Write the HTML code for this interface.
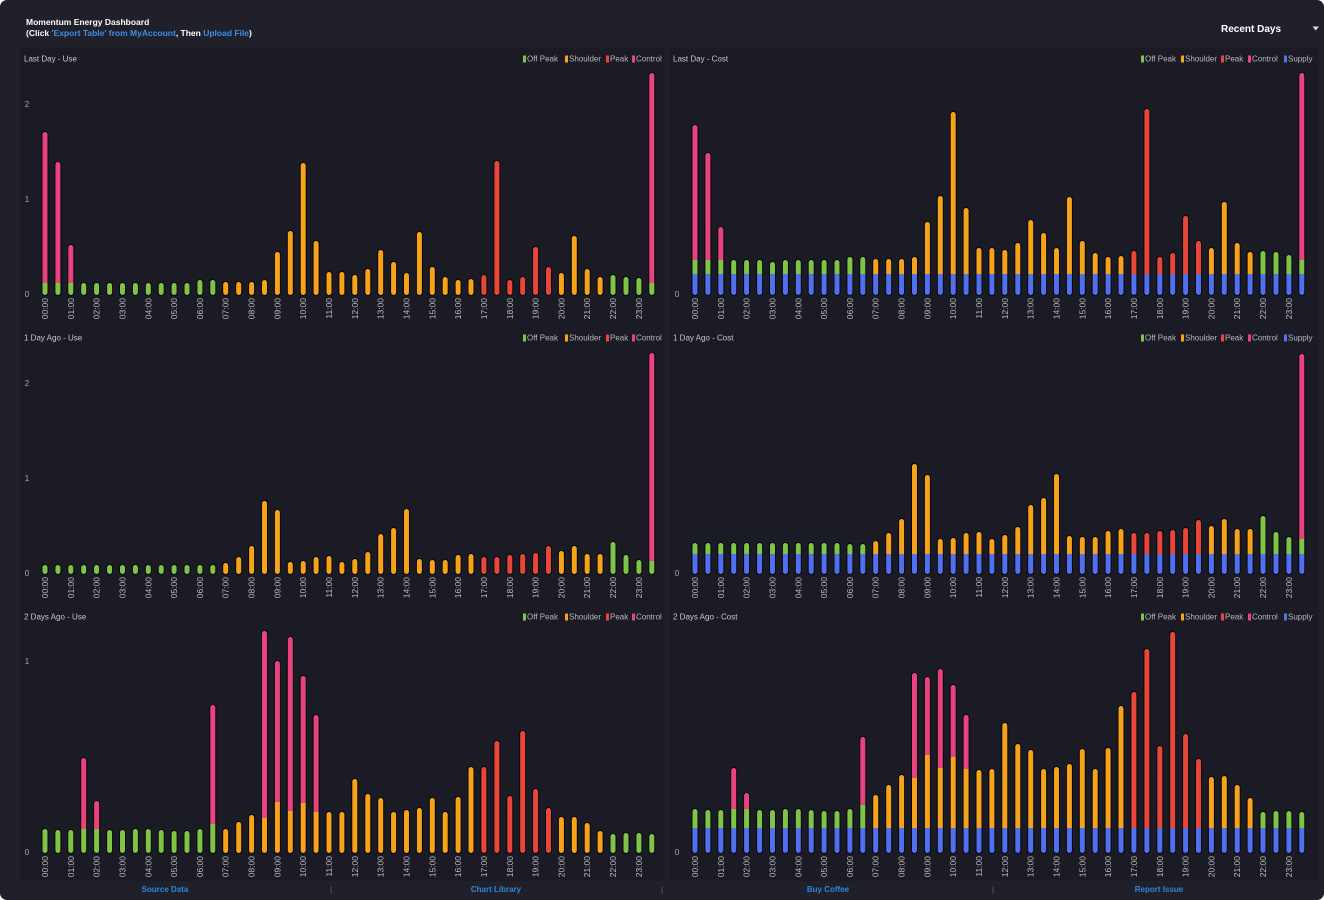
<!DOCTYPE html>
<html><head><meta charset="utf-8">
<style>
html,body{margin:0;padding:0;background:#fff;width:1324px;height:900px;overflow:hidden}
svg{display:block}
.g{fill:#80c447}.o{fill:#f7a21b}.r{fill:#e9463a}.p{fill:#e8437e}.b{fill:#5070f0}
.mk{fill:none;stroke:#fff;stroke-width:5;stroke-linecap:round}
.ol{fill:none;stroke:#08080c;stroke-width:7;stroke-linecap:round}
</style></head><body>
<svg xmlns="http://www.w3.org/2000/svg" width="1324" height="900" viewBox="0 0 1324 900" font-family="'Liberation Sans', sans-serif">
<defs>
<path id="s1" d="M45-2.5V-160.5M57.9-2.5V-130.5M70.8-2.5V-47.5M83.7-2.5V-9.5M96.6-2.5V-9.5M109.6-2.5V-9.5M122.5-2.5V-9.5M135.4-2.5V-9.5M148.3-2.5V-9.5M161.2-2.5V-9.5M174.1-2.5V-9.5M187-2.5V-9.5M199.9-2.5V-12.5M212.8-2.5V-12.5M225.7-2.5V-10.5M238.7-2.5V-10.5M251.6-2.5V-10.5M264.5-2.5V-12.5M277.4-2.5V-40.5M290.3-2.5V-61.5M303.2-2.5V-129.5M316.1-2.5V-51.5M329-2.5V-20.5M341.9-2.5V-20.5M354.8-2.5V-17.5M367.8-2.5V-23.5M380.7-2.5V-42.5M393.6-2.5V-30.5M406.5-2.5V-19.5M419.4-2.5V-60.5M432.3-2.5V-25.5M445.2-2.5V-15.5M458.1-2.5V-12.5M471-2.5V-13.5M483.9-2.5V-17.5M496.9-2.5V-131.5M509.8-2.5V-12.5M522.7-2.5V-15.5M535.6-2.5V-45.5M548.5-2.5V-25.5M561.4-2.5V-19.5M574.3-2.5V-56.5M587.2-2.5V-23.5M600.1-2.5V-15.5M613-2.5V-17.5M626-2.5V-15.5M638.9-2.5V-14.5M651.8-2.5V-219.5"/>
<path id="s2" d="M45-2.5V-167.5M57.9-2.5V-139.5M70.8-2.5V-65.5M83.7-2.5V-32.5M96.6-2.5V-32.5M109.6-2.5V-32.5M122.5-2.5V-30.5M135.4-2.5V-32.5M148.3-2.5V-32.5M161.2-2.5V-32.5M174.1-2.5V-32.5M187-2.5V-32.5M199.9-2.5V-35.5M212.8-2.5V-35.5M225.7-2.5V-33.5M238.7-2.5V-33.5M251.6-2.5V-33.5M264.5-2.5V-35.5M277.4-2.5V-70.5M290.3-2.5V-96.5M303.2-2.5V-180.5M316.1-2.5V-84.5M329-2.5V-44.5M341.9-2.5V-44.5M354.8-2.5V-42.5M367.8-2.5V-49.5M380.7-2.5V-72.5M393.6-2.5V-59.5M406.5-2.5V-44.5M419.4-2.5V-95.5M432.3-2.5V-51.5M445.2-2.5V-39.5M458.1-2.5V-35.5M471-2.5V-36.5M483.9-2.5V-41.5M496.9-2.5V-183.5M509.8-2.5V-35.5M522.7-2.5V-39.5M535.6-2.5V-76.5M548.5-2.5V-51.5M561.4-2.5V-44.5M574.3-2.5V-90.5M587.2-2.5V-49.5M600.1-2.5V-40.5M613-2.5V-41.5M626-2.5V-40.5M638.9-2.5V-37.5M651.8-2.5V-219.5"/>
<path id="s3" d="M45-2.5V-6.5M57.9-2.5V-6.5M70.8-2.5V-6.5M83.7-2.5V-6.5M96.6-2.5V-6.5M109.6-2.5V-6.5M122.5-2.5V-6.5M135.4-2.5V-6.5M148.3-2.5V-6.5M161.2-2.5V-6.5M174.1-2.5V-6.5M187-2.5V-6.5M199.9-2.5V-6.5M212.8-2.5V-6.5M225.7-2.5V-8.5M238.7-2.5V-14.5M251.6-2.5V-25.5M264.5-2.5V-70.5M277.4-2.5V-61.5M290.3-2.5V-9.5M303.2-2.5V-10.5M316.1-2.5V-14.5M329-2.5V-15.5M341.9-2.5V-9.5M354.8-2.5V-12.5M367.8-2.5V-19.5M380.7-2.5V-37.5M393.6-2.5V-43.5M406.5-2.5V-62.5M419.4-2.5V-12.5M432.3-2.5V-11.5M445.2-2.5V-11.5M458.1-2.5V-16.5M471-2.5V-17.5M483.9-2.5V-14.5M496.9-2.5V-14.5M509.8-2.5V-16.5M522.7-2.5V-17.5M535.6-2.5V-18.5M548.5-2.5V-25.5M561.4-2.5V-20.5M574.3-2.5V-25.5M587.2-2.5V-17.5M600.1-2.5V-17.5M613-2.5V-29.5M626-2.5V-16.5M638.9-2.5V-11.5M651.8-2.5V-218.5"/>
<path id="s4" d="M45-2.5V-28.5M57.9-2.5V-28.5M70.8-2.5V-28.5M83.7-2.5V-28.5M96.6-2.5V-28.5M109.6-2.5V-28.5M122.5-2.5V-28.5M135.4-2.5V-28.5M148.3-2.5V-28.5M161.2-2.5V-28.5M174.1-2.5V-28.5M187-2.5V-28.5M199.9-2.5V-27.5M212.8-2.5V-27.5M225.7-2.5V-30.5M238.7-2.5V-38.5M251.6-2.5V-52.5M264.5-2.5V-107.5M277.4-2.5V-96.5M290.3-2.5V-32.5M303.2-2.5V-33.5M316.1-2.5V-38.5M329-2.5V-39.5M341.9-2.5V-32.5M354.8-2.5V-36.5M367.8-2.5V-44.5M380.7-2.5V-66.5M393.6-2.5V-73.5M406.5-2.5V-97.5M419.4-2.5V-35.5M432.3-2.5V-34.5M445.2-2.5V-34.5M458.1-2.5V-40.5M471-2.5V-42.5M483.9-2.5V-38.5M496.9-2.5V-38.5M509.8-2.5V-40.5M522.7-2.5V-41.5M535.6-2.5V-43.5M548.5-2.5V-51.5M561.4-2.5V-45.5M574.3-2.5V-52.5M587.2-2.5V-42.5M600.1-2.5V-42.5M613-2.5V-55.5M626-2.5V-39.5M638.9-2.5V-34.5M651.8-2.5V-217.5"/>
<path id="s5" d="M45-2.5V-21.5M57.9-2.5V-20.5M70.8-2.5V-20.5M83.7-2.5V-92.5M96.6-2.5V-49.5M109.6-2.5V-20.5M122.5-2.5V-20.5M135.4-2.5V-21.5M148.3-2.5V-21.5M161.2-2.5V-20.5M174.1-2.5V-19.5M187-2.5V-19.5M199.9-2.5V-21.5M212.8-2.5V-145.5M225.7-2.5V-21.5M238.7-2.5V-28.5M251.6-2.5V-35.5M264.5-2.5V-219.5M277.4-2.5V-189.5M290.3-2.5V-213.5M303.2-2.5V-174.5M316.1-2.5V-135.5M329-2.5V-38.5M341.9-2.5V-38.5M354.8-2.5V-71.5M367.8-2.5V-56.5M380.7-2.5V-52.5M393.6-2.5V-38.5M406.5-2.5V-40.5M419.4-2.5V-42.5M432.3-2.5V-52.5M445.2-2.5V-38.5M458.1-2.5V-53.5M471-2.5V-83.5M483.9-2.5V-83.5M496.9-2.5V-109.5M509.8-2.5V-54.5M522.7-2.5V-119.5M535.6-2.5V-61.5M548.5-2.5V-42.5M561.4-2.5V-33.5M574.3-2.5V-33.5M587.2-2.5V-27.5M600.1-2.5V-19.5M613-2.5V-16.5M626-2.5V-17.5M638.9-2.5V-17.5M651.8-2.5V-16.5"/>
<path id="s6" d="M45-2.5V-41.5M57.9-2.5V-40.5M70.8-2.5V-40.5M83.7-2.5V-82.5M96.6-2.5V-57.5M109.6-2.5V-40.5M122.5-2.5V-40.5M135.4-2.5V-41.5M148.3-2.5V-41.5M161.2-2.5V-40.5M174.1-2.5V-39.5M187-2.5V-39.5M199.9-2.5V-41.5M212.8-2.5V-113.5M225.7-2.5V-55.5M238.7-2.5V-65.5M251.6-2.5V-75.5M264.5-2.5V-177.5M277.4-2.5V-173.5M290.3-2.5V-181.5M303.2-2.5V-165.5M316.1-2.5V-135.5M329-2.5V-80.5M341.9-2.5V-81.5M354.8-2.5V-127.5M367.8-2.5V-106.5M380.7-2.5V-100.5M393.6-2.5V-81.5M406.5-2.5V-83.5M419.4-2.5V-86.5M432.3-2.5V-101.5M445.2-2.5V-81.5M458.1-2.5V-102.5M471-2.5V-144.5M483.9-2.5V-158.5M496.9-2.5V-201.5M509.8-2.5V-104.5M522.7-2.5V-218.5M535.6-2.5V-116.5M548.5-2.5V-91.5M561.4-2.5V-73.5M574.3-2.5V-74.5M587.2-2.5V-65.5M600.1-2.5V-52.5M613-2.5V-38.5M626-2.5V-39.5M638.9-2.5V-39.5M651.8-2.5V-38.5"/>
<mask id="m1" maskUnits="userSpaceOnUse" x="0" y="-300" width="700" height="320"><use href="#s1" class="mk"/></mask>
<mask id="m2" maskUnits="userSpaceOnUse" x="0" y="-300" width="700" height="320"><use href="#s2" class="mk"/></mask>
<mask id="m3" maskUnits="userSpaceOnUse" x="0" y="-300" width="700" height="320"><use href="#s3" class="mk"/></mask>
<mask id="m4" maskUnits="userSpaceOnUse" x="0" y="-300" width="700" height="320"><use href="#s4" class="mk"/></mask>
<mask id="m5" maskUnits="userSpaceOnUse" x="0" y="-300" width="700" height="320"><use href="#s5" class="mk"/></mask>
<mask id="m6" maskUnits="userSpaceOnUse" x="0" y="-300" width="700" height="320"><use href="#s6" class="mk"/></mask>
</defs>

<rect width="1324" height="900" rx="7" fill="#1f2029"/>
<rect x="20" y="47" width="644" height="834" fill="#1a1b24"/>
<rect x="669" y="47" width="650" height="834" fill="#1a1b24"/>

<!-- header -->
<text x="26" y="25" font-size="8.5" font-weight="bold" fill="#ffffff">Momentum Energy Dashboard</text>
<text x="26" y="36" font-size="8.5" font-weight="bold" fill="#ffffff">(Click <tspan fill="#3d8fe8">'Export Table' from MyAccount</tspan>, Then <tspan fill="#3d8fe8">Upload File</tspan>)</text>
<text x="1221" y="32" font-size="10" font-weight="bold" fill="#ffffff">Recent Days</text>
<polygon points="1312.5,26.5 1319,26.5 1315.75,30.5" fill="#dddddd"/>

<!-- panel titles -->
<g font-size="8" fill="#c9c9c9">
<text x="24" y="61.5">Last Day - Use</text>
<text x="673" y="61.5">Last Day - Cost</text>
<text x="24" y="340.5">1 Day Ago - Use</text>
<text x="673" y="340.5">1 Day Ago - Cost</text>
<text x="24" y="619.5">2 Days Ago - Use</text>
<text x="673" y="619.5">2 Days Ago - Cost</text>
</g>

<!-- legends -->
<g font-size="8" fill="#b8b8b8">
<g>
<rect x="523" y="55.5" width="3" height="7" class="g"/><text x="527" y="61.5">Off Peak</text>
<rect x="565" y="55.5" width="3" height="7" class="o"/><text x="569" y="61.5">Shoulder</text>
<rect x="606" y="55.5" width="3" height="7" class="r"/><text x="610" y="61.5">Peak</text>
<rect x="632" y="55.5" width="3" height="7" class="p"/><text x="636" y="61.5">Control</text>
<rect x="1141" y="55.5" width="3" height="7" class="g"/><text x="1145" y="61.5">Off Peak</text>
<rect x="1181" y="55.5" width="3" height="7" class="o"/><text x="1185" y="61.5">Shoulder</text>
<rect x="1221" y="55.5" width="3" height="7" class="r"/><text x="1225" y="61.5">Peak</text>
<rect x="1248" y="55.5" width="3" height="7" class="p"/><text x="1252" y="61.5">Control</text>
<rect x="1284" y="55.5" width="3" height="7" class="b"/><text x="1288" y="61.5">Supply</text>
</g>
<g transform="translate(0,279)">
<rect x="523" y="55.5" width="3" height="7" class="g"/><text x="527" y="61.5">Off Peak</text>
<rect x="565" y="55.5" width="3" height="7" class="o"/><text x="569" y="61.5">Shoulder</text>
<rect x="606" y="55.5" width="3" height="7" class="r"/><text x="610" y="61.5">Peak</text>
<rect x="632" y="55.5" width="3" height="7" class="p"/><text x="636" y="61.5">Control</text>
<rect x="1141" y="55.5" width="3" height="7" class="g"/><text x="1145" y="61.5">Off Peak</text>
<rect x="1181" y="55.5" width="3" height="7" class="o"/><text x="1185" y="61.5">Shoulder</text>
<rect x="1221" y="55.5" width="3" height="7" class="r"/><text x="1225" y="61.5">Peak</text>
<rect x="1248" y="55.5" width="3" height="7" class="p"/><text x="1252" y="61.5">Control</text>
<rect x="1284" y="55.5" width="3" height="7" class="b"/><text x="1288" y="61.5">Supply</text>
</g>
<g transform="translate(0,558)">
<rect x="523" y="55.5" width="3" height="7" class="g"/><text x="527" y="61.5">Off Peak</text>
<rect x="565" y="55.5" width="3" height="7" class="o"/><text x="569" y="61.5">Shoulder</text>
<rect x="606" y="55.5" width="3" height="7" class="r"/><text x="610" y="61.5">Peak</text>
<rect x="632" y="55.5" width="3" height="7" class="p"/><text x="636" y="61.5">Control</text>
<rect x="1141" y="55.5" width="3" height="7" class="g"/><text x="1145" y="61.5">Off Peak</text>
<rect x="1181" y="55.5" width="3" height="7" class="o"/><text x="1185" y="61.5">Shoulder</text>
<rect x="1221" y="55.5" width="3" height="7" class="r"/><text x="1225" y="61.5">Peak</text>
<rect x="1248" y="55.5" width="3" height="7" class="p"/><text x="1252" y="61.5">Control</text>
<rect x="1284" y="55.5" width="3" height="7" class="b"/><text x="1288" y="61.5">Supply</text>
</g>
</g>

<!-- y ticks -->
<g font-size="8" fill="#a8a8a8" text-anchor="middle">
<text x="27" y="107">2</text><text x="27" y="202">1</text><text x="27" y="297">0</text>
<text x="27" y="386">2</text><text x="27" y="481">1</text><text x="27" y="576">0</text>
<text x="27" y="664">1</text><text x="27" y="855">0</text>
<text x="677" y="297">0</text><text x="677" y="576">0</text><text x="677" y="855">0</text>
</g>

<!-- Panel 1: Last Day - Use -->
<g transform="translate(0,295)">
<use href="#s1" class="ol"/>
<g mask="url(#m1)">
<rect x="38" y="-300" width="39.25" height="300" class="p"/>
<rect x="77.25" y="-300" width="142" height="300" class="g"/>
<rect x="219.25" y="-300" width="258.2" height="300" class="o"/>
<rect x="477.45" y="-300" width="77.5" height="300" class="r"/>
<rect x="554.95" y="-300" width="51.6" height="300" class="o"/>
<rect x="606.55" y="-300" width="38.8" height="300" class="g"/>
<rect x="645.35" y="-300" width="15" height="300" class="p"/>
<rect x="38" y="-12" width="39.25" height="12" class="g"/>
<rect x="645.35" y="-12" width="15" height="12" class="g"/>
</g>
</g>

<!-- Panel 2: Last Day - Cost -->
<g transform="translate(650,295)">
<use href="#s2" class="ol"/>
<g mask="url(#m2)">
<rect x="38" y="-300" width="39.25" height="300" class="p"/>
<rect x="77.25" y="-300" width="142" height="300" class="g"/>
<rect x="219.25" y="-300" width="258.2" height="300" class="o"/>
<rect x="477.45" y="-300" width="77.5" height="300" class="r"/>
<rect x="554.95" y="-300" width="51.6" height="300" class="o"/>
<rect x="606.55" y="-300" width="38.8" height="300" class="g"/>
<rect x="645.35" y="-300" width="15" height="300" class="p"/>
<rect x="38" y="-35" width="39.25" height="35" class="g"/>
<rect x="645.35" y="-35" width="15" height="35" class="g"/>
<rect x="38" y="-21" width="622" height="21" class="b"/>
</g>
</g>

<!-- Panel 3: 1 Day Ago - Use -->
<g transform="translate(0,574)">
<use href="#s3" class="ol"/>
<g mask="url(#m3)">
<rect x="38" y="-300" width="181.25" height="300" class="g"/>
<rect x="219.25" y="-300" width="258.2" height="300" class="o"/>
<rect x="477.45" y="-300" width="77.5" height="300" class="r"/>
<rect x="554.95" y="-300" width="51.6" height="300" class="o"/>
<rect x="606.55" y="-300" width="38.8" height="300" class="g"/>
<rect x="645.35" y="-300" width="15" height="300" class="p"/>
<rect x="645.35" y="-13" width="15" height="13" class="g"/>
</g>
</g>

<!-- Panel 4: 1 Day Ago - Cost -->
<g transform="translate(650,574)">
<use href="#s4" class="ol"/>
<g mask="url(#m4)">
<rect x="38" y="-300" width="181.25" height="300" class="g"/>
<rect x="219.25" y="-300" width="258.2" height="300" class="o"/>
<rect x="477.45" y="-300" width="77.5" height="300" class="r"/>
<rect x="554.95" y="-300" width="51.6" height="300" class="o"/>
<rect x="606.55" y="-300" width="38.8" height="300" class="g"/>
<rect x="645.35" y="-300" width="15" height="300" class="p"/>
<rect x="645.35" y="-35" width="15" height="35" class="g"/>
<rect x="38" y="-20" width="622" height="20" class="b"/>
</g>
</g>

<!-- Panel 5: 2 Days Ago - Use -->
<g transform="translate(0,853)">
<use href="#s5" class="ol"/>
<g mask="url(#m5)">
<rect x="38" y="-300" width="39.25" height="300" class="g"/>
<rect x="77.25" y="-300" width="25.9" height="300" class="p"/>
<rect x="103.15" y="-300" width="103.2" height="300" class="g"/>
<rect x="206.35" y="-300" width="12.9" height="300" class="p"/>
<rect x="219.25" y="-300" width="38.8" height="300" class="o"/>
<rect x="258.05" y="-300" width="64.5" height="300" class="p"/>
<rect x="322.55" y="-300" width="154.9" height="300" class="o"/>
<rect x="477.45" y="-300" width="77.5" height="300" class="r"/>
<rect x="554.95" y="-300" width="51.6" height="300" class="o"/>
<rect x="606.55" y="-300" width="53.45" height="300" class="g"/>
<rect x="77.25" y="-24" width="25.9" height="24" class="g"/>
<rect x="206.35" y="-29" width="12.9" height="29" class="g"/>
<rect x="261" y="-35" width="7" height="35" class="o"/>
<rect x="273.9" y="-51" width="7" height="51" class="o"/>
<rect x="286.8" y="-42" width="7" height="42" class="o"/>
<rect x="299.7" y="-50" width="7" height="50" class="o"/>
<rect x="312.6" y="-41" width="7" height="41" class="o"/>
</g>
</g>

<!-- Panel 6: 2 Days Ago - Cost -->
<g transform="translate(650,853)">
<use href="#s6" class="ol"/>
<g mask="url(#m6)">
<rect x="38" y="-300" width="39.25" height="300" class="g"/>
<rect x="77.25" y="-300" width="25.9" height="300" class="p"/>
<rect x="103.15" y="-300" width="103.2" height="300" class="g"/>
<rect x="206.35" y="-300" width="12.9" height="300" class="p"/>
<rect x="219.25" y="-300" width="38.8" height="300" class="o"/>
<rect x="258.05" y="-300" width="64.5" height="300" class="p"/>
<rect x="322.55" y="-300" width="154.9" height="300" class="o"/>
<rect x="477.45" y="-300" width="77.5" height="300" class="r"/>
<rect x="554.95" y="-300" width="51.6" height="300" class="o"/>
<rect x="606.55" y="-300" width="53.45" height="300" class="g"/>
<rect x="77.25" y="-44" width="25.9" height="44" class="g"/>
<rect x="206.35" y="-48" width="12.9" height="48" class="g"/>
<rect x="261" y="-75" width="7" height="75" class="o"/>
<rect x="273.9" y="-98" width="7" height="98" class="o"/>
<rect x="286.8" y="-85" width="7" height="85" class="o"/>
<rect x="299.7" y="-96" width="7" height="96" class="o"/>
<rect x="312.6" y="-84" width="7" height="84" class="o"/>
<rect x="38" y="-25" width="622" height="25" class="b"/>
</g>
</g>

<!-- x-axis labels -->
<g font-size="8.5" fill="#bdbdbd" text-anchor="end">
<g transform="translate(0,298) rotate(-90)">
<text><tspan x="0" y="48">00:00</tspan><tspan x="0" y="73.8">01:00</tspan><tspan x="0" y="99.6">02:00</tspan><tspan x="0" y="125.5">03:00</tspan><tspan x="0" y="151.3">04:00</tspan><tspan x="0" y="177.1">05:00</tspan><tspan x="0" y="202.9">06:00</tspan><tspan x="0" y="228.7">07:00</tspan><tspan x="0" y="254.6">08:00</tspan><tspan x="0" y="280.4">09:00</tspan><tspan x="0" y="306.2">10:00</tspan><tspan x="0" y="332">11:00</tspan><tspan x="0" y="357.8">12:00</tspan><tspan x="0" y="383.7">13:00</tspan><tspan x="0" y="409.5">14:00</tspan><tspan x="0" y="435.3">15:00</tspan><tspan x="0" y="461.1">16:00</tspan><tspan x="0" y="486.9">17:00</tspan><tspan x="0" y="512.8">18:00</tspan><tspan x="0" y="538.6">19:00</tspan><tspan x="0" y="564.4">20:00</tspan><tspan x="0" y="590.2">21:00</tspan><tspan x="0" y="616">22:00</tspan><tspan x="0" y="641.9">23:00</tspan></text>
<text><tspan x="0" y="698">00:00</tspan><tspan x="0" y="723.8">01:00</tspan><tspan x="0" y="749.6">02:00</tspan><tspan x="0" y="775.5">03:00</tspan><tspan x="0" y="801.3">04:00</tspan><tspan x="0" y="827.1">05:00</tspan><tspan x="0" y="852.9">06:00</tspan><tspan x="0" y="878.7">07:00</tspan><tspan x="0" y="904.6">08:00</tspan><tspan x="0" y="930.4">09:00</tspan><tspan x="0" y="956.2">10:00</tspan><tspan x="0" y="982">11:00</tspan><tspan x="0" y="1007.8">12:00</tspan><tspan x="0" y="1033.7">13:00</tspan><tspan x="0" y="1059.5">14:00</tspan><tspan x="0" y="1085.3">15:00</tspan><tspan x="0" y="1111.1">16:00</tspan><tspan x="0" y="1136.9">17:00</tspan><tspan x="0" y="1162.8">18:00</tspan><tspan x="0" y="1188.6">19:00</tspan><tspan x="0" y="1214.4">20:00</tspan><tspan x="0" y="1240.2">21:00</tspan><tspan x="0" y="1266">22:00</tspan><tspan x="0" y="1291.9">23:00</tspan></text>
</g>
<g transform="translate(0,577) rotate(-90)">
<text><tspan x="0" y="48">00:00</tspan><tspan x="0" y="73.8">01:00</tspan><tspan x="0" y="99.6">02:00</tspan><tspan x="0" y="125.5">03:00</tspan><tspan x="0" y="151.3">04:00</tspan><tspan x="0" y="177.1">05:00</tspan><tspan x="0" y="202.9">06:00</tspan><tspan x="0" y="228.7">07:00</tspan><tspan x="0" y="254.6">08:00</tspan><tspan x="0" y="280.4">09:00</tspan><tspan x="0" y="306.2">10:00</tspan><tspan x="0" y="332">11:00</tspan><tspan x="0" y="357.8">12:00</tspan><tspan x="0" y="383.7">13:00</tspan><tspan x="0" y="409.5">14:00</tspan><tspan x="0" y="435.3">15:00</tspan><tspan x="0" y="461.1">16:00</tspan><tspan x="0" y="486.9">17:00</tspan><tspan x="0" y="512.8">18:00</tspan><tspan x="0" y="538.6">19:00</tspan><tspan x="0" y="564.4">20:00</tspan><tspan x="0" y="590.2">21:00</tspan><tspan x="0" y="616">22:00</tspan><tspan x="0" y="641.9">23:00</tspan></text>
<text><tspan x="0" y="698">00:00</tspan><tspan x="0" y="723.8">01:00</tspan><tspan x="0" y="749.6">02:00</tspan><tspan x="0" y="775.5">03:00</tspan><tspan x="0" y="801.3">04:00</tspan><tspan x="0" y="827.1">05:00</tspan><tspan x="0" y="852.9">06:00</tspan><tspan x="0" y="878.7">07:00</tspan><tspan x="0" y="904.6">08:00</tspan><tspan x="0" y="930.4">09:00</tspan><tspan x="0" y="956.2">10:00</tspan><tspan x="0" y="982">11:00</tspan><tspan x="0" y="1007.8">12:00</tspan><tspan x="0" y="1033.7">13:00</tspan><tspan x="0" y="1059.5">14:00</tspan><tspan x="0" y="1085.3">15:00</tspan><tspan x="0" y="1111.1">16:00</tspan><tspan x="0" y="1136.9">17:00</tspan><tspan x="0" y="1162.8">18:00</tspan><tspan x="0" y="1188.6">19:00</tspan><tspan x="0" y="1214.4">20:00</tspan><tspan x="0" y="1240.2">21:00</tspan><tspan x="0" y="1266">22:00</tspan><tspan x="0" y="1291.9">23:00</tspan></text>
</g>
<g transform="translate(0,856) rotate(-90)">
<text><tspan x="0" y="48">00:00</tspan><tspan x="0" y="73.8">01:00</tspan><tspan x="0" y="99.6">02:00</tspan><tspan x="0" y="125.5">03:00</tspan><tspan x="0" y="151.3">04:00</tspan><tspan x="0" y="177.1">05:00</tspan><tspan x="0" y="202.9">06:00</tspan><tspan x="0" y="228.7">07:00</tspan><tspan x="0" y="254.6">08:00</tspan><tspan x="0" y="280.4">09:00</tspan><tspan x="0" y="306.2">10:00</tspan><tspan x="0" y="332">11:00</tspan><tspan x="0" y="357.8">12:00</tspan><tspan x="0" y="383.7">13:00</tspan><tspan x="0" y="409.5">14:00</tspan><tspan x="0" y="435.3">15:00</tspan><tspan x="0" y="461.1">16:00</tspan><tspan x="0" y="486.9">17:00</tspan><tspan x="0" y="512.8">18:00</tspan><tspan x="0" y="538.6">19:00</tspan><tspan x="0" y="564.4">20:00</tspan><tspan x="0" y="590.2">21:00</tspan><tspan x="0" y="616">22:00</tspan><tspan x="0" y="641.9">23:00</tspan></text>
<text><tspan x="0" y="698">00:00</tspan><tspan x="0" y="723.8">01:00</tspan><tspan x="0" y="749.6">02:00</tspan><tspan x="0" y="775.5">03:00</tspan><tspan x="0" y="801.3">04:00</tspan><tspan x="0" y="827.1">05:00</tspan><tspan x="0" y="852.9">06:00</tspan><tspan x="0" y="878.7">07:00</tspan><tspan x="0" y="904.6">08:00</tspan><tspan x="0" y="930.4">09:00</tspan><tspan x="0" y="956.2">10:00</tspan><tspan x="0" y="982">11:00</tspan><tspan x="0" y="1007.8">12:00</tspan><tspan x="0" y="1033.7">13:00</tspan><tspan x="0" y="1059.5">14:00</tspan><tspan x="0" y="1085.3">15:00</tspan><tspan x="0" y="1111.1">16:00</tspan><tspan x="0" y="1136.9">17:00</tspan><tspan x="0" y="1162.8">18:00</tspan><tspan x="0" y="1188.6">19:00</tspan><tspan x="0" y="1214.4">20:00</tspan><tspan x="0" y="1240.2">21:00</tspan><tspan x="0" y="1266">22:00</tspan><tspan x="0" y="1291.9">23:00</tspan></text>
</g>
</g>

<!-- footer -->
<g font-size="8" font-weight="bold" fill="#2e86de" text-anchor="middle">
<text x="165" y="892">Source Data</text>
<text x="496" y="892">Chart Library</text>
<text x="828" y="892">Buy Coffee</text>
<text x="1159" y="892">Report Issue</text>
</g>
<g font-size="7" fill="#777" text-anchor="middle">
<text x="331" y="892">|</text>
<text x="662" y="892">|</text>
<text x="993" y="892">|</text>
</g>
</svg>
</body></html>
